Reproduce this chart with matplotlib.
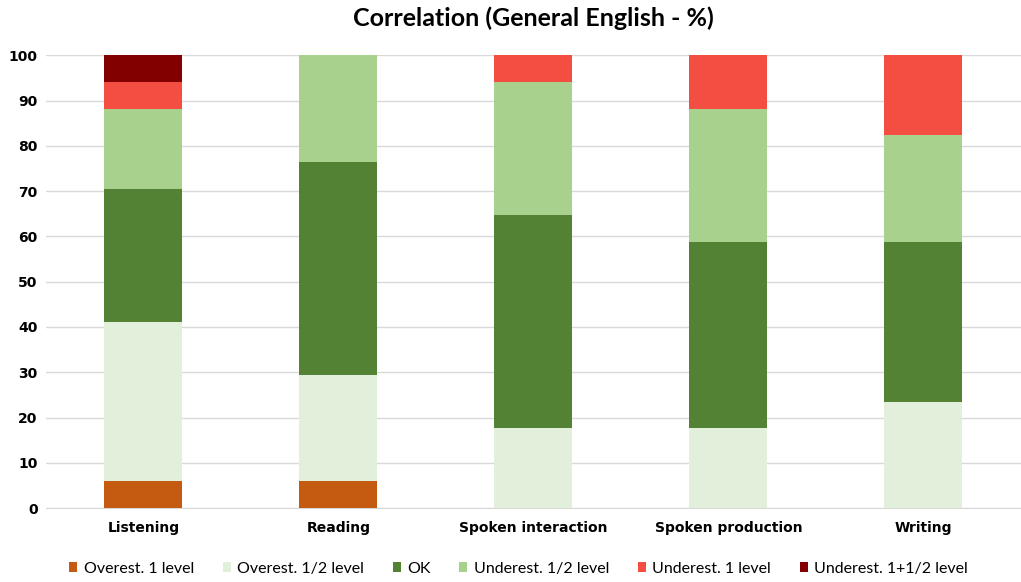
import numpy as np
import matplotlib.pyplot as plt

plt.rcParams['font.family'] = ['DejaVu Sans']
narrow = ['Lato', 'DejaVu Sans']

categories = ['Listening', 'Reading', 'Spoken interaction', 'Spoken production', 'Writing']
series = ['Overest. 1 level', 'Overest. 1/2 level', 'OK', 'Underest. 1/2 level',
          'Underest. 1 level', 'Underest. 1+1/2 level']
overest_1 = [5.88, 5.88, 0, 0, 0]
overest_half = [35.29, 23.53, 17.65, 17.65, 23.53]
ok = [29.41, 47.06, 47.06, 41.18, 35.29]
underest_half = [17.65, 23.53, 29.41, 29.41, 23.53]
underest_1 = [5.88, 0, 5.88, 11.76, 17.65]
underest_1_5 = [5.88, 0, 0, 0, 0]
colors = ['#C55A11', '#E2EFDA', '#548235', '#A9D18E', '#F44E43', '#820000']

fig = plt.figure(figsize=(10.21, 5.82), dpi=100)
ax = fig.add_axes([0.045, 0.127, 0.955, 0.778])

x = np.arange(len(categories))
bottom = np.zeros(len(categories))
for vals, name, c in zip([overest_1, overest_half, ok, underest_half, underest_1, underest_1_5],
                         series, colors):
    ax.bar(x, vals, 0.4, bottom=bottom, color=c, label=name, zorder=3)
    bottom += np.array(vals)

ax.set_xlim(-0.5, 4.5)
ax.set_ylim(0, 100)
ax.set_yticks(range(0, 101, 10))
ax.set_xticks(x, categories)
ax.tick_params(axis='y', length=0, labelsize=10, pad=6)
ax.tick_params(axis='x', length=0, labelsize=10, pad=9)
for lab in ax.get_yticklabels() + ax.get_xticklabels():
    lab.set_fontweight('bold')
ax.grid(axis='y', color='#D9D9D9', linewidth=1, zorder=0)
for s in ['top', 'right', 'left']:
    ax.spines[s].set_visible(False)
ax.spines['bottom'].set_color('#D9D9D9')

ax.set_title('Correlation (General English - %)', fontsize=18, fontweight='bold',
             family=narrow, pad=21)
fig.legend(loc='lower center', ncol=6, frameon=False,
           prop={'family': narrow, 'size': 11.5},
           bbox_to_anchor=(0.508, -0.014), handlelength=0.5, handleheight=0.65,
           columnspacing=1.8, handletextpad=0.4)

plt.savefig('out.png', dpi=100)
